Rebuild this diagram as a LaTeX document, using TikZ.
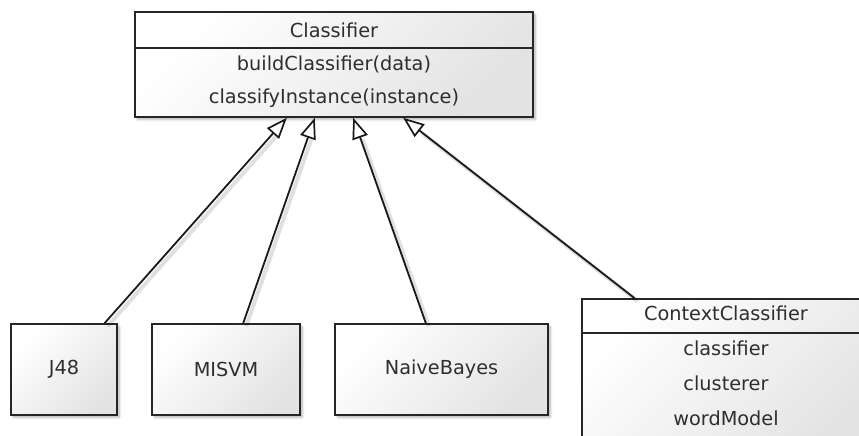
\documentclass[tikz,border=0pt]{standalone}
\usepackage{fontspec}
\setmainfont{DejaVu Sans}
\usetikzlibrary{arrows.meta,calc,shadows.blur}

\tikzset{
  umlbox/.style={draw=black!85, line width=1.6pt, inner sep=0pt,
    top color=white, bottom color=black!11, shading angle=45,
    blur shadow={shadow xshift=2.5pt, shadow yshift=-2.5pt,
      shadow blur steps=6, shadow opacity=28}},
  sepline/.style={draw=black!85, line width=1.6pt},
  lbl/.style={text=black!82, font=\fontsize{19.3}{23}\selectfont, inner sep=0pt},
  inherit/.style={draw=black!90, line width=1.8pt,
    -{Triangle[open, length=21pt, width=16pt, fill=white, line width=1.7pt]}},
  inheritshade/.style={draw=black, opacity=0.12, line width=4pt}
}

\begin{document}
\begin{tikzpicture}[x=1pt, y=-1pt]
  \useasboundingbox (0,0) rectangle (859,436);

  % base class with its two operations
  \node[umlbox, minimum width=398pt, minimum height=105pt] (cls) at (334,64.5) {};
  \draw[sepline] (cls.west |- 0,48) -- (cls.east |- 0,48);
  \node[lbl] (clsname) at (334,30) {Classifier};
  \node[lbl] (op1) at (334,64) {buildClassifier(data)};
  \node[lbl] (op2) at (334,98) {classifyInstance(instance)};

  % subclasses
  \node[umlbox, minimum width=106pt, minimum height=91pt] (j48) at (64,369.5) {};
  \node[lbl] at (j48.center) {J48};
  \node[umlbox, minimum width=148pt, minimum height=91pt] (misvm) at (226,369.5) {};
  \node[lbl] at (misvm.center) {MISVM};
  \node[umlbox, minimum width=213pt, minimum height=91pt] (nb) at (441.5,369.5) {};
  \node[lbl] at (nb.center) {NaiveBayes};

  % context classifier with its attributes (runs off the page edge)
  \node[umlbox, minimum width=290pt, minimum height=160pt] (ctx) at (727,379) {};
  \draw[sepline] (ctx.west |- 0,333) -- (ctx.east |- 0,333);
  \node[lbl] (ctxname) at (726,313) {ContextClassifier};
  \node[lbl] (a1) at (726,348) {classifier};
  \node[lbl] (a2) at (726,383) {clusterer};
  \node[lbl] (a3) at (726,418) {wordModel};

  % attachment points
  \coordinate (t1) at ($(cls.south west)!0.382!(cls.south east)$);
  \coordinate (t2) at ($(cls.south west)!0.452!(cls.south east)$);
  \coordinate (t3) at ($(cls.south west)!0.548!(cls.south east)$);
  \coordinate (t4) at ($(cls.south west)!0.673!(cls.south east)$);
  \coordinate (s1) at ($(j48.north west)!0.877!(j48.north east)$);
  \coordinate (s2) at ($(misvm.north west)!0.615!(misvm.north east)$);
  \coordinate (s3) at ($(nb.north west)!0.427!(nb.north east)$);
  \coordinate (s4) at ($(ctx.north west)!0.183!(ctx.north east)$);

  % soft shadows of the generalization lines
  \foreach \s/\t in {s1/t1, s2/t2, s3/t3, s4/t4}
    \draw[inheritshade, shorten >=20pt] ($(\s)+(3,3)$) -- ($(\t)+(3,3)$);

  % generalization arrows
  \draw[inherit] (s1) -- (t1);
  \draw[inherit] (s2) -- (t2);
  \draw[inherit] (s3) -- (t3);
  \draw[inherit] (s4) -- (t4);
\end{tikzpicture}
\end{document}
